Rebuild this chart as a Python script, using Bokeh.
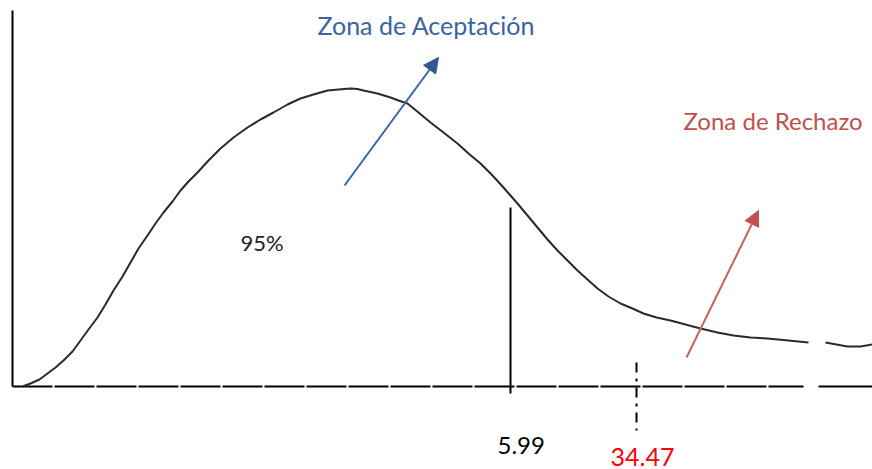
from bokeh.plotting import figure
from bokeh.models import Range1d, ColumnDataSource, Arrow, NormalHead
from bokeh.core.properties import value
from bokeh.embed import file_html
from bokeh.resources import INLINE
import numpy as np

# Diagram coordinates (x to the right, y downward like the picture)
curve_x = [22, 30, 39, 47, 55, 63, 72, 80, 88, 97, 105, 113, 122, 130, 138, 147, 155, 163, 172,
           180, 188, 197, 208, 220, 233, 247, 260, 273, 287, 300, 313, 327, 338, 350, 357,
           363, 377, 390, 398, 407, 418, 430, 443, 457, 468, 480, 492, 503, 510, 517, 527,
           537, 547, 557, 567, 577, 587, 597, 608, 620, 632, 643, 656, 670, 685, 700, 717,
           733, 750, 767, 788, 808, np.nan, 825, 836, 847, 860, 872]
curve_y = [386, 383, 379, 373, 367, 360, 351, 340, 329, 317, 304, 290, 276, 262, 248, 235, 223,
           212, 201, 190, 181, 172, 160, 148, 137, 127, 119, 112, 104, 98, 94, 90, 89, 88, 88.5,
           90, 93, 97, 100, 103, 112, 122, 132, 143, 153, 163, 175, 187, 195, 203, 215,
           227, 239, 250, 260, 270, 279, 288, 296, 303, 308, 313, 317, 320, 324, 328, 332,
           335, 337, 338, 340, 342, np.nan, 342, 344, 346, 346, 344]

axis_x0 = 12
axis_y0 = 386
axis_top = 10
axis_gap = [803, 818]
axis_right = 872

crit_x = 510          # 5.99
crit_y = [207, 393]
stat_x = 636          # 34.47
stat_y = [362, 430]

label_text = ["Zona de Aceptación", "Zona de Rechazo", "95%", "5.99", "34.47"]
label_x = [317, 683, 240, 497, 610]
label_y = [24, 120, 242, 445, 456]
label_color = ["#3B63A0", "#C0504D", "#222222", "#000000", "#FF0000"]
label_size = ["25px", "24px", "22px", "24px", "25px"]

arrow_blue = dict(x_start=344, y_start=185, x_end=438, y_end=57)
arrow_red = dict(x_start=686, y_start=357, x_end=758, y_end=210)

W, H = 872, 469
p = figure(width=W, height=H, output_backend="svg", toolbar_location=None,
           x_range=Range1d(0, W), y_range=Range1d(H, 0),
           min_border=0, outline_line_color=None)
p.axis.visible = False
p.grid.visible = False

# axes
p.line([axis_x0, axis_x0], [axis_top, axis_y0], line_color="black", line_width=2)
p.line([axis_x0, axis_gap[0]], [axis_y0, axis_y0], line_color="black", line_width=2,
       line_dash="40 2")
p.line([axis_gap[1], axis_right], [axis_y0, axis_y0], line_color="black", line_width=2)

# curve
p.line(curve_x, curve_y, line_color="#2a2a2a", line_width=2)

# critical lines
p.line([crit_x, crit_x], crit_y, line_color="black", line_width=2)
p.line([stat_x, stat_x], stat_y, line_color="black", line_width=2, line_dash="10 6 3 6")

# arrows
p.add_layout(Arrow(end=NormalHead(size=15, fill_color="#2F5A8F", line_color="#2F5A8F"),
                   line_color="#3A66A0", line_width=2, **arrow_blue))
p.add_layout(Arrow(end=NormalHead(size=15, fill_color="#C0504D", line_color="#C0504D"),
                   line_color="#C8605D", line_width=2, **arrow_red))

src = ColumnDataSource(dict(x=label_x, y=label_y, t=label_text, c=label_color, s=label_size))
p.text(x="x", y="y", text="t", text_color="c", text_font_size="s", source=src,
       text_font=value("Lato"), text_baseline="alphabetic", text_align="left")

open("out.html", "w").write(file_html(p, INLINE))
